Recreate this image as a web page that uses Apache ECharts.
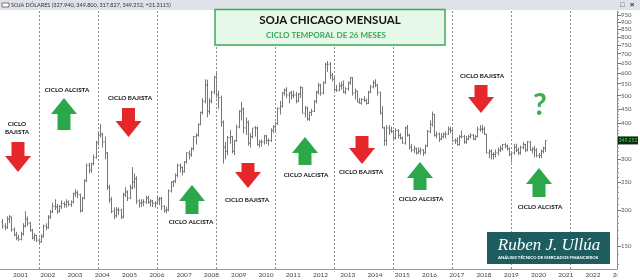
<!DOCTYPE html>
<html><head><meta charset="utf-8">
<script src="https://cdn.jsdelivr.net/npm/echarts@6/dist/echarts.min.js"></script>
<style>html,body{margin:0;padding:0;background:#fff}#c{width:640px;height:280px}</style>
</head><body><div id="c"></div>
<script>
// ---- DATA (USD per ton, monthly, Sep 2000 .. Aug 2020) ----
const firstMonth = '2000-09';
const openP = [
182,176,174,186,
189,171,164,160,158,165,176,186,180,170,160,163,
157,155,162,176,174,189,197,206,205,198,206,211,
209,213,209,213,228,230,226,199,220,253,286,275,
290,305,343,364,367,345,316,240,217,198,191,200,
200,189,226,231,220,239,250,257,215,211,213,213,
220,213,215,211,211,217,219,206,199,200,233,250,
252,264,286,281,272,294,316,312,327,360,364,397,
437,478,544,441,478,514,580,503,492,404,331,320,
358,360,320,349,389,441,448,386,404,342,360,386,
386,338,345,345,362,349,349,378,389,400,452,459,
511,522,503,511,500,503,478,507,533,434,452,415,
437,441,478,514,544,511,555,643,643,588,570,525,
522,540,544,514,529,555,577,511,518,474,470,485,
481,470,514,536,555,544,514,434,386,349,386,378,
375,356,378,364,356,342,386,364,331,323,327,316,
320,323,316,334,375,397,430,364,367,353,360,367,
367,382,378,349,349,338,360,360,345,353,360,364,
353,360,382,382,382,367,316,320,312,312,316,323,
327,338,334,327,312,316,330,323,316,330,338,323,
345,323,327,323,309,309,320,327.94
];
const highP = [
186,180,190,192,
190,174,168,164,168,180,198,190,182,172,166,164,
160,165,178,180,192,200,212,218,210,208,216,214,
218,216,216,230,236,234,228,222,256,290,292,292,
312,348,375,398,372,360,318,245,222,204,205,204,
202,230,240,234,245,282,268,262,218,218,218,224,
224,218,217,214,222,222,222,208,205,236,252,254,
268,290,290,284,296,318,322,330,362,370,400,440,
490,570,568,490,520,585,610,520,500,410,345,362,
380,362,350,396,445,476,455,420,410,370,385,392,
390,350,352,365,365,355,385,395,405,455,480,515,
530,535,515,520,520,515,510,540,535,460,458,440,
450,482,520,555,550,560,650,660,655,600,580,545,
555,560,565,535,560,580,580,530,520,490,490,498,
488,520,545,565,570,548,515,460,390,395,395,390,
380,385,382,370,360,390,395,368,340,335,330,330,
330,326,338,380,410,440,432,375,372,370,372,375,
390,390,382,355,358,365,378,365,362,365,370,368,
365,390,395,395,390,368,325,325,318,325,330,335,
340,342,338,330,320,340,340,330,335,345,340,348,
348,330,335,328,316,325,332,349.8
];
const lowP = [
172,170,172,180,
168,162,157,156,157,163,174,176,168,158,156,155,
153,154,160,170,172,186,195,200,194,196,202,204,
204,206,205,211,222,220,196,197,218,250,268,270,
286,302,335,358,330,300,235,212,195,186,188,192,
186,187,222,215,218,236,238,210,204,205,206,210,
210,206,205,204,208,208,200,196,195,198,230,240,
248,260,270,264,270,290,300,306,322,338,360,394,
430,470,420,430,470,505,490,450,390,290,300,310,
340,315,310,345,385,410,370,365,335,330,355,360,
335,330,332,338,340,335,345,370,375,395,430,455,
500,490,470,485,490,470,475,490,435,420,410,408,
425,438,470,505,500,505,550,605,570,560,515,515,
518,525,510,505,520,545,500,485,475,470,465,475,
465,468,510,530,535,500,430,385,335,335,365,370,
350,352,355,352,340,338,360,325,318,316,312,314,
312,308,314,332,370,390,360,355,345,350,355,355,
365,370,345,340,335,335,355,340,340,350,355,350,
350,358,375,370,365,315,303,300,300,305,310,318,
322,328,322,308,293,312,318,310,312,325,318,320,
322,315,305,305,303,303,315,317.827
];
const closeP = [
176,174,186,189,
171,164,160,158,165,176,186,180,170,160,163,157,
155,162,176,174,189,197,206,205,198,206,211,209,
213,209,213,228,230,226,199,220,253,286,275,290,
305,343,364,367,345,316,240,217,198,191,200,200,
189,226,231,220,239,250,257,215,211,213,213,220,
213,215,211,211,217,219,206,199,200,233,250,252,
264,286,281,272,294,316,312,327,360,364,397,437,
478,544,441,478,514,580,503,492,404,331,320,358,
360,320,349,389,441,448,386,404,342,360,386,386,
338,345,345,362,349,349,378,389,400,452,459,511,
522,503,511,500,503,478,507,533,434,452,415,437,
441,478,514,544,511,555,643,643,588,570,525,522,
540,544,514,529,555,577,511,518,474,470,485,481,
470,514,536,555,544,514,434,386,349,386,378,375,
356,378,364,356,342,386,364,331,323,327,316,320,
323,316,334,375,397,430,364,367,353,360,367,367,
382,378,349,349,338,360,360,345,353,360,364,353,
360,382,382,382,367,316,320,312,312,316,323,327,
338,334,327,312,316,330,323,316,330,338,323,345,
323,327,323,309,309,320,328,349.252
];
const cycleMonths = ['2002-01','2004-03','2006-05','2008-07','2010-09','2012-11','2015-01','2017-03','2019-05','2021-07'];
const yTickLabels = [150,200,250,300,350,400,450,500,550,600,650,700,750,800,850,900,950];
const yMinorTicks = [130,140,160,170,180,190,210,220,230,240,260,270,280,290,310,320,330,340,360,370,380,390,410,420,430,440,460,470,480,490,525,575,625,675,725,775,825,875,925,975];
const yMin = 124.7, yMax = 985;
const headerText = 'SOJA DÓLARES (327.940, 349.800, 317.827, 349.252, +21.3115)';

// ---- categories: monthly, Aug 2000 .. Mar 2023 ----
const cats = [];
for (let y = 2000, m = 8; y < 2023 || (y === 2023 && m <= 3); ) {
  cats.push(y + '-' + String(m).padStart(2, '0'));
  m++; if (m > 12) { m = 1; y++; }
}
const off = cats.indexOf(firstMonth);
const ohlc = closeP.map((c, i) => [i + off, openP[i], highP[i], lowP[i], c]);
const isJan = (i, v) => v.slice(5) === '01';

function renderOHLC(params, api) {
  const idx = api.value(0);
  const pO = api.coord([idx, api.value(1)]);
  const pH = api.coord([idx, api.value(2)]);
  const pL = api.coord([idx, api.value(3)]);
  const pC = api.coord([idx, api.value(4)]);
  const bw = api.coord([idx + 1, api.value(1)])[0] - pO[0];
  const x = Math.round(pH[0]) + 0.5;
  const t = Math.max(1, bw * 0.5);
  const st = { stroke: '#777', lineWidth: 1 };
  return { type: 'group', children: [
    { type: 'line', shape: { x1: x, y1: pH[1], x2: x, y2: pL[1] }, style: st },
    { type: 'line', shape: { x1: x - t, y1: pO[1], x2: x, y2: pO[1] }, style: st },
    { type: 'line', shape: { x1: x, y1: pC[1], x2: x + t, y2: pC[1] }, style: st }
  ]};
}

// ---- annotations ----
const RED = '#e5262a', GREEN = '#2aa84a';
const arrows = [
  { cx: 18, top: 142, bot: 172, up: false },
  { cx: 64, top: 98, bot: 130, up: true },
  { cx: 128.5, top: 108, bot: 137, up: false },
  { cx: 192, top: 185, bot: 214, up: true },
  { cx: 248, top: 163, bot: 188, up: false },
  { cx: 305, top: 137, bot: 165, up: true },
  { cx: 362, top: 136, bot: 164, up: false },
  { cx: 420, top: 162, bot: 190, up: true },
  { cx: 481, top: 85, bot: 113, up: false },
  { cx: 539, top: 168, bot: 197, up: true }
];
const labels = [
  { x: 17, y: 124, t: 'CICLO' }, { x: 17, y: 132, t: 'BAJISTA' },
  { x: 67, y: 90, t: 'CICLO ALCISTA' }, { x: 130, y: 98, t: 'CICLO BAJISTA' },
  { x: 191, y: 222, t: 'CICLO ALCISTA' }, { x: 247, y: 200, t: 'CICLO BAJISTA' },
  { x: 306, y: 175, t: 'CICLO ALCISTA' }, { x: 361, y: 172, t: 'CICLO BAJISTA' },
  { x: 421, y: 199, t: 'CICLO ALCISTA' }, { x: 482, y: 76, t: 'CICLO BAJISTA' },
  { x: 540, y: 207, t: 'CICLO ALCISTA' }
];
function arrowPts(a) {
  const W = 26, S = 13, H = 16;
  if (a.up) {
    const b = a.top + H;
    return [[a.cx, a.top], [a.cx + W/2, b], [a.cx + S/2, b], [a.cx + S/2, a.bot], [a.cx - S/2, a.bot], [a.cx - S/2, b], [a.cx - W/2, b]];
  }
  const b = a.bot - H;
  return [[a.cx, a.bot], [a.cx + W/2, b], [a.cx + S/2, b], [a.cx + S/2, a.top], [a.cx - S/2, a.top], [a.cx - S/2, b], [a.cx - W/2, b]];
}
const FONT = 'Lato, "DejaVu Sans", sans-serif';
const graphics = [
  { type: 'rect', shape: { x: 0, y: 0, width: 640, height: 10 }, style: { fill: '#dfe2e7' }, z: 100 },
  { type: 'rect', shape: { x: 2, y: 3, width: 7, height: 4 }, style: { fill: '#fff', stroke: '#555', lineWidth: 0.8 }, z: 101 },
  { type: 'text', x: 11, y: 5, style: { text: headerText, fontSize: 5.5, fill: '#333', fontFamily: FONT, verticalAlign: 'middle' }, z: 101 },
  { type: 'text', x: 622, y: 5, style: { text: '□', fontSize: 7, fill: '#333', align: 'center', verticalAlign: 'middle' }, z: 101 },
  { type: 'text', x: 632, y: 5, style: { text: '×', fontSize: 8, fontWeight: 'bold', fill: '#333', align: 'center', verticalAlign: 'middle' }, z: 101 },
  { type: 'rect', shape: { x: 215, y: 9.5, width: 230, height: 35.5 }, style: { fill: '#e6f8ea', stroke: '#3dab58', lineWidth: 1.5 }, z: 100 },
  { type: 'text', x: 330, y: 20, style: { text: 'SOJA CHICAGO MENSUAL', fontSize: 11.5, fontWeight: 'bold', fill: '#111', fontFamily: FONT, align: 'center', verticalAlign: 'middle' }, z: 101 },
  { type: 'text', x: 326, y: 35, style: { text: 'CICLO TEMPORAL DE 26 MESES', fontSize: 8, fontWeight: 'bold', fill: '#3aa655', fontFamily: FONT, align: 'center', verticalAlign: 'middle' }, z: 101 },
  { type: 'rect', shape: { x: 487, y: 232, width: 123, height: 32 }, style: { fill: '#1d5d5f' }, z: 100 },
  { type: 'text', x: 549, y: 246, style: { text: 'Ruben J. Ullúa', fontSize: 17, fontStyle: 'italic', fill: '#fff', fontFamily: '"Liberation Serif", "DejaVu Serif", serif', align: 'center', verticalAlign: 'middle' }, z: 101 },
  { type: 'text', x: 548, y: 257.5, style: { text: 'ANÁLISIS TÉCNICO DE MERCADOS FINANCIEROS', fontSize: 4.3, fontWeight: 'bold', fill: '#fff', fontFamily: FONT, align: 'center', verticalAlign: 'middle' }, z: 101 },
  { type: 'text', x: 540, y: 105, style: { text: '?', fontSize: 30, fontWeight: 'bold', fill: '#3bb054', fontFamily: FONT, align: 'center', verticalAlign: 'middle' }, z: 101 },
  { type: 'rect', shape: { x: 617.5, y: 270, width: 23, height: 10 }, style: { fill: '#fff' }, z: 100 }
];
arrows.forEach(a => graphics.push({ type: 'polygon', shape: { points: arrowPts(a) }, style: { fill: a.up ? GREEN : RED }, z: 101 }));
labels.forEach(l => graphics.push({ type: 'text', x: l.x, y: l.y, style: { text: l.t, fontSize: 6.3, fontWeight: 'bold', fill: '#111', fontFamily: FONT, align: 'center', verticalAlign: 'middle' }, z: 101 }));

const chart = echarts.init(document.getElementById('c'), null, { renderer: 'canvas' });
const lnMin = Math.log(yMin), lnMax = Math.log(yMax);
chart.setOption({
  animation: false,
  backgroundColor: '#fff',
  grid: { left: -1, right: 23, top: 11, bottom: 11, containLabel: false, outerBoundsMode: 'none' },
  xAxis: {
    type: 'category', data: cats, boundaryGap: true,
    axisLine: { lineStyle: { color: '#9a9a9a', width: 1 } },
    axisTick: { interval: isJan, length: 9, lineStyle: { color: '#8a8a8a' } },
    axisLabel: { interval: isJan, formatter: v => v.slice(0, 4), align: 'left', fontSize: 6.5, color: '#444', margin: 2, padding: [0, 0, 0, 1.5], fontFamily: FONT },
    splitLine: { show: false }
  },
  yAxis: [
    { type: 'log', min: yMin, max: yMax, show: false, splitLine: { show: false } },
    { type: 'value', min: lnMin, max: lnMax, position: 'right', splitLine: { show: false },
      axisLine: { show: true, lineStyle: { color: '#8a8a8a' } },
      axisTick: { show: true, customValues: yTickLabels.map(v => Math.log(v)), length: 4, lineStyle: { color: '#777' } },
      axisLabel: { customValues: yTickLabels.map(v => Math.log(v)), formatter: v => String(Math.round(Math.exp(v))), fontSize: 6, color: '#555', margin: 4, fontFamily: FONT } },
    { type: 'value', min: lnMin, max: lnMax, position: 'right', splitLine: { show: false },
      axisLine: { show: false },
      axisTick: { show: true, customValues: yMinorTicks.map(v => Math.log(v)), length: 2, lineStyle: { color: '#999' } },
      axisLabel: { show: false } }
  ],
  series: [{
    type: 'custom', name: 'SOJA', xAxisIndex: 0, yAxisIndex: 0,
    renderItem: renderOHLC, data: ohlc, encode: { x: 0, y: [1, 2, 3, 4] }, clip: true,
    markLine: { silent: true, symbol: 'none', label: { show: false },
      lineStyle: { type: [2, 2], color: '#8c8c8c', width: 1 },
      data: cycleMonths.map(m => ({ xAxis: m })) }
  }],
  graphic: graphics
});
const lastClose = closeP[closeP.length - 1];
const ly = chart.convertToPixel({ yAxisIndex: 0 }, lastClose);
graphics.push({ type: 'rect', shape: { x: 618, y: ly - 4, width: 20, height: 8 }, style: { fill: '#0d2b0f' }, z: 102 });
graphics.push({ type: 'text', x: 628, y: ly, style: { text: lastClose.toFixed(3), fontSize: 5, fill: '#3ddc55', align: 'center', verticalAlign: 'middle', fontFamily: FONT }, z: 103 });
chart.setOption({ graphic: graphics });
</script></body></html>
